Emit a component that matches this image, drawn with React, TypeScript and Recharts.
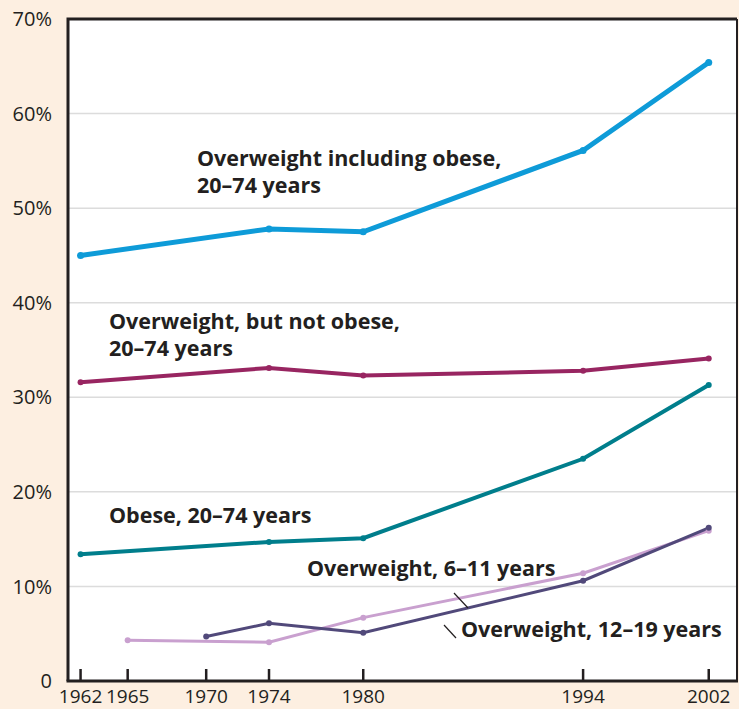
import { LineChart, Line, XAxis, YAxis, CartesianGrid } from 'recharts'

const ADULT_YEARS = [1962, 1974, 1980, 1994, 2002]
const OVERWEIGHT_INCL_OBESE = [45.0, 47.8, 47.5, 56.1, 65.4]
const OVERWEIGHT_NOT_OBESE = [31.6, 33.1, 32.3, 32.8, 34.1]
const OBESE = [13.4, 14.7, 15.1, 23.5, 31.3]

const CHILD_YEARS = [1965, 1974, 1980, 1994, 2002]
const OVERWEIGHT_6_11 = [4.3, 4.1, 6.7, 11.4, 15.9]

const TEEN_YEARS = [1970, 1974, 1980, 1994, 2002]
const OVERWEIGHT_12_19 = [4.7, 6.1, 5.1, 10.6, 16.2]

const X_TICKS = [1962, 1965, 1970, 1974, 1980, 1994, 2002]
const Y_TICKS = [0, 10, 20, 30, 40, 50, 60, 70]

const toRows = (years: number[], values: number[]) =>
  years.map((year, i) => ({ year, value: values[i] }))

const INK = '#231F20'
const FONT = '"Open Sans", "DejaVu Sans", sans-serif'

const W = 739
const H = 709
const LEFT = 68
const TOP = 19
const RIGHT = 737
const BOTTOM = 681

function XTick({ x, y, payload }: any) {
  return (
    <g>
      <line x1={x} x2={x} y1={y - 12} y2={y} stroke={INK} strokeWidth={2.5} />
      <text
        x={x}
        y={y + 22}
        textAnchor="middle"
        fill={INK}
        fontSize={19}
        fontFamily={FONT}
      >
        {payload.value}
      </text>
    </g>
  )
}

const labelStyle = {
  fontFamily: FONT,
  fontSize: 21.5,
  fontWeight: 700,
  fill: INK,
} as const

export default function App() {
  const series = [
    { key: 'incl', data: toRows(ADULT_YEARS, OVERWEIGHT_INCL_OBESE), color: '#0E9BD8', width: 5 },
    { key: 'notobese', data: toRows(ADULT_YEARS, OVERWEIGHT_NOT_OBESE), color: '#982561', width: 4 },
    { key: 'obese', data: toRows(ADULT_YEARS, OBESE), color: '#007E8C', width: 4 },
    { key: 'kids', data: toRows(CHILD_YEARS, OVERWEIGHT_6_11), color: '#C9A0CF', width: 3 },
    { key: 'teens', data: toRows(TEEN_YEARS, OVERWEIGHT_12_19), color: '#51497A', width: 3 },
  ]

  return (
    <div style={{ position: 'relative', width: W, height: H, background: '#FDEFE1' }}>
      <style>{`body{margin:0}`}</style>
      <LineChart
        width={W}
        height={H}
        margin={{ top: TOP, right: W - RIGHT, bottom: 0, left: 0 }}
      >
        <CartesianGrid
          vertical={false}
          horizontal
          stroke="#DCDCDC"
          strokeWidth={1.5}
          fill="#FFFFFF"
          fillOpacity={1}
        />
        <XAxis
          dataKey="year"
          type="number"
          domain={[1961.2, 2003.8]}
          ticks={X_TICKS}
          allowDataOverflow
          height={H - BOTTOM}
          axisLine={false}
          tickSize={0}
          tickMargin={0}
          tick={<XTick />}
          interval={0}
        />
        <YAxis
          type="number"
          domain={[0, 70]}
          ticks={Y_TICKS}
          width={LEFT}
          axisLine={false}
          tickLine={false}
          tickMargin={10}
          tickFormatter={(v: number) => (v === 0 ? '0' : `${v}%`)}
          tick={{ fill: INK, fontSize: 20, fontFamily: FONT }}
        />
        {series.map((s) => (
          <Line
            key={s.key}
            data={s.data}
            dataKey="value"
            type="linear"
            stroke={s.color}
            strokeWidth={s.width}
            dot={{ r: s.width === 5 ? 3.5 : 3, fill: s.color, stroke: 'none' }}
            activeDot={false}
            isAnimationActive={false}
          />
        ))}
      </LineChart>
      <svg
        width={W}
        height={H}
        style={{ position: 'absolute', left: 0, top: 0, pointerEvents: 'none' }}
      >
        <path
          d={`M${LEFT} ${BOTTOM} L${LEFT} ${TOP} L${RIGHT} ${TOP}`}
          fill="none"
          stroke={INK}
          strokeWidth={3}
        />
        <line x1={RIGHT} x2={RIGHT} y1={TOP} y2={BOTTOM} stroke={INK} strokeWidth={2} />
        <line x1={LEFT - 1.5} x2={RIGHT + 1} y1={BOTTOM} y2={BOTTOM} stroke={INK} strokeWidth={3} />
        <text x={197} y={166} {...labelStyle}>Overweight including obese,</text>
        <text x={197} y={193} {...labelStyle}>20–74 years</text>
        <text x={109} y={329} {...labelStyle}>Overweight, but not obese,</text>
        <text x={109} y={356} {...labelStyle}>20–74 years</text>
        <text x={109} y={523} {...labelStyle}>Obese, 20–74 years</text>
        <text x={307} y={576} {...labelStyle}>Overweight, 6–11 years</text>
        <text x={461} y={637} {...labelStyle}>Overweight, 12–19 years</text>
        <line x1={454} y1={593} x2={468} y2={608} stroke={INK} strokeWidth={1.2} />
        <line x1={444} y1={625} x2={456} y2={638} stroke={INK} strokeWidth={1.2} />
      </svg>
    </div>
  )
}
